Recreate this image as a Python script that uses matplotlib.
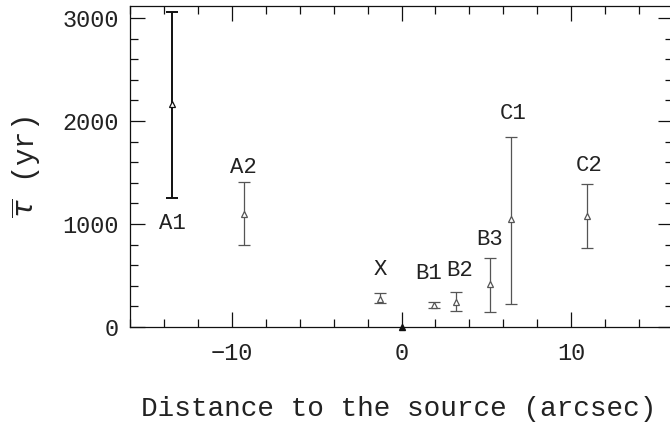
import matplotlib
matplotlib.use("Agg")
import matplotlib.pyplot as plt
from matplotlib.ticker import MultipleLocator

# ─── Data ────────────────────────────────────────────────────────────────────
names   = ["A1", "A2", "X", "O", "B1", "B2", "B3", "C1", "C2"]
dist    = [-13.5, -9.3, -1.24, 0.0, 1.9, 3.2, 5.2, 6.45, 10.95]
tau     = [2165, 1097, 272, 0, 214, 243, 417, 1049, 1078]
err_hi  = [3053, 1408, 330, 0, 245, 340, 670, 1845, 1388]
err_lo  = [1252, 796, 233, 0, 185, 155, 146, 223, 767]

# label anchors (data coords), "O" has no label
lab_x   = [-13.5, -9.3, -1.24, None, 1.6, 3.4, 5.2, 6.6, 11.05]
lab_y   = [1000, 1544, 563, None, 515, 544, 854, 2068, 1563]

FONT = "Liberation Mono"
INK = "#111111"
GREY = "#555555"
TXT = "#222222"

fig = plt.figure(figsize=(6.7, 4.28), dpi=100)
ax = fig.add_axes([130 / 670, 101 / 428, 543 / 670, 321 / 428])

for i, n in enumerate(names):
    col = INK if n == "A1" else GREY
    lw = 1.4 if n == "A1" else 0.9
    yerr = [[tau[i] - err_lo[i]], [err_hi[i] - tau[i]]]
    if n == "O":
        ax.plot(dist[i], tau[i], marker="^", ms=4, color=INK,
                clip_on=False, zorder=4)
        continue
    ax.errorbar(dist[i], tau[i], yerr=yerr, fmt="none", ecolor=col,
                elinewidth=lw, capsize=4, capthick=lw)
    ax.plot(dist[i], tau[i], marker="^", ms=5, mfc="white", mec=col,
            mew=0.9, ls="none", zorder=3)
    ax.text(lab_x[i], lab_y[i], n, ha="center", va="center",
            fontsize=16, family=FONT, color=TXT)

ax.set_xlim(-16, 16)
ax.set_ylim(0, 3116)
ax.xaxis.set_major_locator(MultipleLocator(10))
ax.xaxis.set_minor_locator(MultipleLocator(2))
ax.yaxis.set_major_locator(MultipleLocator(1000))
ax.yaxis.set_minor_locator(MultipleLocator(200))

ax.tick_params(which="both", direction="in", top=True, right=True,
               color=INK, width=0.9)
ax.tick_params(which="major", length=11)
ax.tick_params(which="minor", length=6)
ax.tick_params(axis="x", which="major", pad=11)
ax.tick_params(axis="y", which="major", pad=8)
ax.set_yticks([0, 1000, 2000, 3000])
ax.set_yticklabels(["0", "1000", "2000", "3000"], family=FONT,
                   fontsize=17, color=TXT)
ax.set_xticks([-10, 0, 10])
ax.set_xticklabels(["\u221210", "0", "10"], family=FONT, fontsize=17,
                   color=TXT)

for sp in ax.spines.values():
    sp.set_linewidth(0.9)
    sp.set_color(INK)

# centred under the visible part of the axes so it stays inside the figure
fig.text(0.5 * (130 + 668) / 670, 1 - 409 / 428,
         "Distance to the source (arcsec)", family=FONT, fontsize=20,
         ha="center", va="center", color=TXT)
ax.set_ylabel(r"$\overline{\tau}$ (yr)", family=FONT, fontsize=21,
              labelpad=14, color=TXT)

fig.savefig("out.png", dpi=100)
